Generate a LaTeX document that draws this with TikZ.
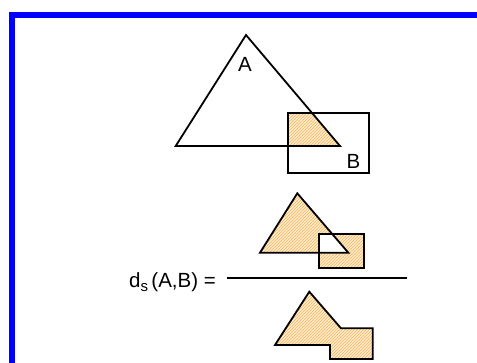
\documentclass[tikz,border=0pt]{standalone}
\usepackage{fontspec}
\setmainfont{Liberation Sans}
\usepackage{xcolor}
\usetikzlibrary{patterns}
\definecolor{FrameBlue}{RGB}{0,0,255}
\definecolor{HatchOr}{RGB}{245,180,90}
\definecolor{HatchBg}{RGB}{255,236,205}
\tikzset{
  outl/.style={draw=black,line width=1.8pt,line join=miter},
  hatch/.style={preaction={fill=HatchBg},pattern=north east lines,pattern color=HatchOr},
  lbl/.style={font=\fontsize{20.5}{24}\selectfont,inner sep=0pt},
}
\newcommand{\subs}[1]{\raisebox{-4pt}{\fontsize{15}{17}\selectfont #1}}

\begin{document}
\begin{tikzpicture}[x=1pt,y=-1pt]
  \useasboundingbox (0,0) rectangle (477,363);
  % frame
  \fill[FrameBlue] (9,12) rectangle (477,18);
  \fill[FrameBlue] (9,12) rectangle (15,363);
  % A and B
  \fill[hatch] (287.7,112.7) -- (311.8,112.7) -- (340,146) -- (287.7,146) -- cycle;
  \draw[outl] (246,35) -- (340,146) -- (175.7,146) -- cycle;
  \draw[outl] (287.7,112.7) rectangle (369,173.3);
  \node[lbl,anchor=base] (labA) at (245,72) {A};
  \node[lbl,anchor=base] (labB) at (353.5,169) {B};
  % numerator
  \fill[hatch] (297.3,193.3) -- (348.3,252.7) -- (260,252.7) -- cycle;
  \fill[hatch] (319.3,234) rectangle (364.3,268.3);
  \fill[white] (319.3,234) -- (332.2,234) -- (348.3,252.7) -- (319.3,252.7) -- cycle;
  \draw[outl] (297.3,193.3) -- (348.3,252.7) -- (260,252.7) -- cycle;
  \draw[outl] (319.3,234) rectangle (364.3,268.3);
  % fraction
  \node[lbl,anchor=base east] (ds) at (216,288) {d\subs{s}\,(A,B) =};
  \draw[line width=1.8pt] (226.7,277.7) coordinate (fl) -- (407.3,277.7) coordinate (fr);
  % denominator
  \draw[outl,hatch] (309.3,291.7) -- (341,328.3) -- (372.7,328.3) -- (372.7,359)
    -- (330,359) -- (330,345) -- (275,345) -- cycle;
\end{tikzpicture}
\end{document}
